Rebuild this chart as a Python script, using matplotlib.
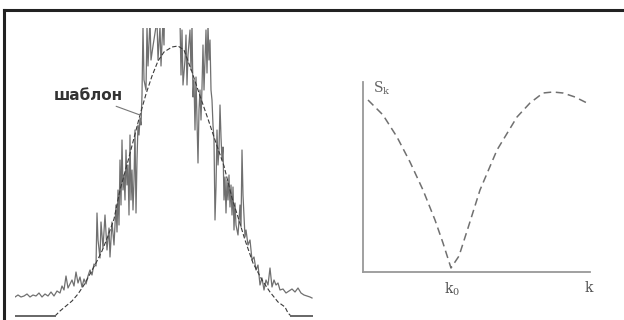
import matplotlib
matplotlib.use("Agg")
import matplotlib.pyplot as plt
from matplotlib.lines import Line2D

plt.rcParams['mathtext.fontset'] = 'dejavuserif'

# measured signal (position, amplitude) - spikes above 288 are cut by the frame
sig_x = [15, 18, 21, 24, 27, 30, 33, 36, 39, 42, 45, 48, 51, 54, 57, 60, 62, 64, 66, 68,
         70, 72, 74, 76, 78, 80, 82, 84, 86, 88, 90, 92, 94, 96, 97, 98, 100, 101, 103, 105,
         107, 109, 110, 112, 114, 116, 117, 118, 119, 120, 121, 122, 123, 124, 125, 126, 127, 128, 129, 130,
         131, 132, 133, 134, 135, 136, 137, 138, 139, 140, 141, 142, 143, 144, 146, 147, 148, 150,
         151, 153, 157, 158, 160, 161, 163, 164, 165, 179, 180, 181, 182, 183, 185, 186, 187,
         188, 190, 191, 192, 193, 194, 195, 196, 197, 198, 199, 200, 201, 202, 203, 204, 205, 206, 207,
         208, 209, 210, 211, 212, 213, 214, 215, 216, 217, 218, 219, 220, 221, 222, 223, 224, 225, 226, 227,
         228, 229, 230, 231, 232, 233, 234, 235, 236, 238, 240, 241, 242, 243, 244, 245, 246, 248, 250, 252,
         254, 256, 258, 260, 262, 264, 266, 268, 270, 272, 274, 276, 278, 280, 283, 286, 289, 292, 295, 298,
         301, 304, 307, 310, 312]
sig_y = [19, 21, 19, 20, 22, 19, 21, 20, 23, 19, 22, 20, 24, 20, 25, 23, 30, 26, 40, 28,
         32, 36, 30, 44, 33, 39, 29, 37, 32, 40, 46, 41, 52, 50, 103, 76, 58, 94, 68, 101,
         66, 88, 59, 94, 71, 111, 84, 126, 91, 156, 111, 176, 126, 141, 116, 166, 131, 151, 101, 181,
         116, 146, 106, 136, 186, 103, 156, 191, 181, 198, 191, 221, 290, 236, 226, 290, 250, 296,
         256, 270, 296, 256, 290, 250, 296, 271, 336, 336, 296, 241, 286, 231, 256, 281, 231,
         261, 286, 246, 291, 219, 236, 186, 239, 196, 153, 206, 226, 196, 229, 271, 226, 256, 286, 243,
         291, 256, 276, 226, 216, 191, 176, 96, 129, 186, 151, 166, 211, 179, 156, 169, 116, 139, 103, 136,
         116, 141, 109, 131, 101, 129, 86, 113, 91, 81, 111, 89, 166, 121, 101, 79, 86, 71, 76, 56,
         59, 46, 51, 31, 38, 26, 36, 31, 48, 29, 36, 31, 33, 26, 27, 23, 25, 27, 24, 28,
         23, 21, 20, 19, 18]

# template ("шаблон")
tpl_x = [15, 55, 60, 66, 72, 78, 84, 90, 96, 102, 108, 114, 120, 128, 134, 140, 146, 152, 158, 164,
         172, 178, 184, 192, 200, 208, 216, 224, 232, 238, 245, 253, 262, 270, 278, 285, 288, 291, 313]
tpl_y = [0, 0, 5, 10, 15, 22, 31, 42, 53, 65, 80, 97, 126, 155, 178, 201, 222, 240, 255, 264,
         269, 270, 266, 244, 220, 197, 173, 150, 118, 99, 76, 53, 36, 24, 14, 9, 3, 0, 0]

# S_k curve
k = [5, 20, 34, 47, 60, 72, 80, 88, 96, 105, 117, 134, 154, 167, 180, 190, 200, 212, 224]
S = [172, 157, 135, 110, 82, 52, 29, 4, 16, 44, 82, 122, 155, 169, 179, 180, 179, 175, 169]
k0 = 89

fig = plt.figure(figsize=(6.24, 3.2), dpi=100)

# frame (only top and left edges visible)
fig.add_artist(Line2D([4/624, 1], [310/320, 310/320], color='#222222', lw=2.2))
fig.add_artist(Line2D([4/624, 4/624], [0, 310/320], color='#222222', lw=2.2))

ax1 = fig.add_axes([15/624, 1/320, 298/624, 291/320])
ax1.plot(sig_x, sig_y, color='#707070', lw=0.9)
ax1.plot(tpl_x[1:-1], tpl_y[1:-1], color='#3a3a3a', lw=0.8, dashes=(4, 2))
# flat ends of the template are drawn solid
ax1.plot(tpl_x[:2], tpl_y[:2], color='#666666', lw=1.4)
ax1.plot(tpl_x[-2:], tpl_y[-2:], color='#666666', lw=1.4)
ax1.set_xlim(15, 313)
ax1.set_ylim(-3, 288)
ax1.axis('off')
ax1.annotate('шаблон', xy=(140, 201), xytext=(88, 220), ha='center', va='center',
             fontsize=11, fontweight='bold', color='#333333',
             arrowprops=dict(arrowstyle='-', color='#777777', lw=0.8,
                             shrinkA=27, shrinkB=0))

ax2 = fig.add_axes([363/624, 48/320, 227/624, 190/320])
ax2.plot(k, S, color='#707070', lw=1.1, dashes=(5, 3))
ax2.set_xlim(0, 227)
ax2.set_ylim(0, 190)
for s in ['top', 'right']:
    ax2.spines[s].set_visible(False)
for s in ['left', 'bottom']:
    ax2.spines[s].set_color('#999999')
    ax2.spines[s].set_linewidth(1.3)
ax2.set_yticks([])
ax2.set_xticks([k0])
ax2.set_xticklabels(['k$_0$'], family='DejaVu Serif', fontsize=10, color='#555555')
ax2.tick_params(axis='x', length=0, pad=6)
ax2.text(10, 184, 'S$_\\mathrm{k}$', family='DejaVu Serif', fontsize=10, color='#666666',
         ha='left', va='center')
ax2.text(222, -16, 'k', family='DejaVu Serif', fontsize=10, color='#555555',
         ha='left', va='center')

fig.savefig('out.png', dpi=100)
